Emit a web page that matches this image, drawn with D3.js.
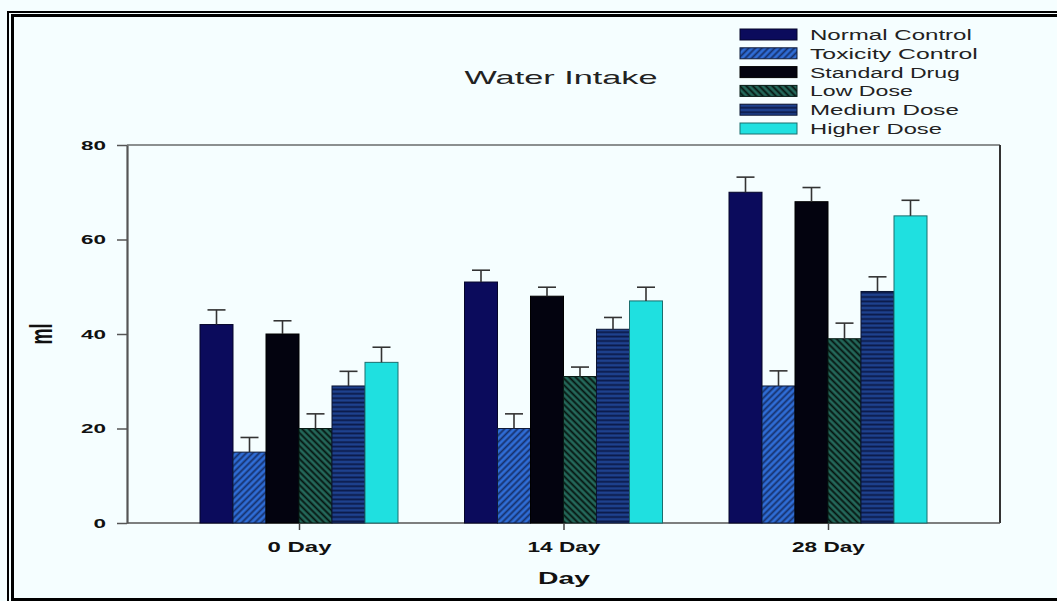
<!DOCTYPE html>
<html>
<head>
<meta charset="utf-8">
<script src="https://cdn.jsdelivr.net/npm/d3@7"></script>
<style>
html,body{margin:0;padding:0;background:#f5feff;}
svg{display:block;}
text{font-family:"Liberation Sans",Arial,sans-serif;}
</style>
</head>
<body>
<script>
// ---- data ----
const categories = ["0 Day", "14 Day", "28 Day"];
const seriesNames = ["Normal Control", "Toxicity Control", "Standard Drug", "Low Dose", "Medium Dose", "Higher Dose"];
const normalControl   = [42, 51, 70];
const toxicityControl = [15, 20, 29];
const standardDrug    = [40, 48, 68];
const lowDose         = [20, 31, 39];
const mediumDose      = [29, 41, 49];
const higherDose      = [34, 47, 65];
const normalControlErr   = [3.1, 2.5, 3.2];
const toxicityControlErr = [3.1, 3.1, 3.2];
const standardDrugErr    = [2.8, 1.9, 3.0];
const lowDoseErr         = [3.1, 2.0, 3.3];
const mediumDoseErr      = [3.1, 2.5, 3.1];
const higherDoseErr      = [3.2, 2.9, 3.3];
const yTicks = [0, 20, 40, 60, 80];

const seriesValues = [normalControl, toxicityControl, standardDrug, lowDose, mediumDose, higherDose];
const seriesErrs = [normalControlErr, toxicityControlErr, standardDrugErr, lowDoseErr, mediumDoseErr, higherDoseErr];
const fills = ["#0b0b5c", "url(#patTox)", "#03030f", "url(#patLow)", "url(#patMed)", "#1fe0e0"];
const strokes = ["#05052a", "#0d1a3a", "#000000", "#061a14", "#0a1433", "#1b6e6e"];

const W = 1057, H = 601;
const svg = d3.select("body").append("svg").attr("width", W).attr("height", H);

// horizontally stretch a text element to a target width, keeping its anchor point
function stretch(sel, widthFn) {
  sel.each(function (d, i) {
    const t = d3.select(this);
    const natural = this.getComputedTextLength();
    const target = typeof widthFn === "function" ? widthFn(d, i) : widthFn;
    const s = target / natural;
    const ax = +(t.attr("x") || 0);
    t.attr("transform", `translate(${ax},0) scale(${s},1) translate(${-ax},0)`);
  });
}

// patterns
const defs = svg.append("defs");
function stripePattern(id, base, line, rot, size, sw) {
  const p = defs.append("pattern").attr("id", id).attr("patternUnits", "userSpaceOnUse")
    .attr("width", size).attr("height", size).attr("patternTransform", `rotate(${rot})`);
  p.append("rect").attr("width", size).attr("height", size).attr("fill", base);
  p.append("line").attr("x1", size / 2).attr("y1", 0).attr("x2", size / 2).attr("y2", size)
    .attr("stroke", line).attr("stroke-width", sw);
}
stripePattern("patTox", "#2f6dd6", "#16306a", 45, 4.6, 1.8);
stripePattern("patLow", "#24685a", "#05140f", -45, 4.6, 1.8);
stripePattern("patMed", "#1e418e", "#0b1a48", 90, 4.4, 1.8);

// outer double border
svg.append("rect").attr("x", 8).attr("y", 12).attr("width", 1060).attr("height", 600)
  .attr("fill", "none").attr("stroke", "#000").attr("stroke-width", 2);
svg.append("rect").attr("x", 12.5).attr("y", 15.5).attr("width", 1050).attr("height", 584)
  .attr("fill", "none").attr("stroke", "#000").attr("stroke-width", 3);

// scales
const x0 = d3.scalePoint().domain(categories).range([299, 828]);
const x1 = d3.scaleBand().domain(seriesNames).range([-99, 99]).padding(0);
const y = d3.scaleLinear().domain([0, 80]).range([523, 145]);

// plot frame
const plotL = 127, plotR = 1000;
svg.append("line").attr("x1", plotL).attr("x2", plotR).attr("y1", y(80)).attr("y2", y(80))
  .attr("stroke", "#222").attr("stroke-width", 1.2);
svg.append("line").attr("x1", plotR).attr("x2", plotR).attr("y1", y(80)).attr("y2", y(0))
  .attr("stroke", "#333").attr("stroke-width", 2);
svg.append("line").attr("x1", plotL).attr("x2", plotR).attr("y1", y(0)).attr("y2", y(0))
  .attr("stroke", "#555").attr("stroke-width", 1.5);

// bars
seriesNames.forEach((name, si) => {
  const g = svg.append("g");
  g.selectAll("rect").data(categories).join("rect")
    .attr("x", c => x0(c) + x1(name))
    .attr("y", (c, i) => y(seriesValues[si][i]))
    .attr("width", x1.bandwidth())
    .attr("height", (c, i) => y(0) - y(seriesValues[si][i]))
    .attr("fill", fills[si])
    .attr("stroke", strokes[si]).attr("stroke-width", 1);
  // error bars (upper only)
  const eg = svg.append("g").attr("stroke", "#333").attr("stroke-width", 1.6);
  categories.forEach((c, i) => {
    const cx = x0(c) + x1(name) + x1.bandwidth() / 2;
    const top = y(seriesValues[si][i] + seriesErrs[si][i]);
    eg.append("line").attr("x1", cx).attr("x2", cx).attr("y1", y(seriesValues[si][i])).attr("y2", top);
    eg.append("line").attr("x1", cx - 9).attr("x2", cx + 9).attr("y1", top).attr("y2", top);
  });
});

// y axis
const yAxis = svg.append("g").attr("transform", `translate(${plotL},0)`)
  .call(d3.axisLeft(y).tickValues(yTicks).tickSize(10).tickSizeOuter(0).tickPadding(11));
yAxis.select(".domain").attr("stroke", "#555").attr("stroke-width", 2.2);
yAxis.selectAll(".tick line").attr("stroke", "#555").attr("stroke-width", 1.5);
yAxis.selectAll(".tick text")
  .attr("font-size", 12.5).attr("font-weight", "bold").attr("fill", "#111")
  .attr("font-family", "Liberation Sans, Arial, sans-serif")
  .call(stretch, d => String(d).length * 12.5);

// x axis
const xAxis = svg.append("g").attr("transform", `translate(0,${y(0)})`)
  .call(d3.axisBottom(x0).tickSize(7).tickPadding(12));
xAxis.select(".domain").remove();
xAxis.selectAll(".tick line").attr("stroke", "#444").attr("stroke-width", 1.5);
xAxis.selectAll(".tick text")
  .attr("font-size", 14).attr("font-weight", "bold").attr("fill", "#111")
  .attr("font-family", "Liberation Sans, Arial, sans-serif")
  .call(stretch, d => d.length === 5 ? 64 : 73);

// titles
svg.append("text").attr("x", 561).attr("y", 84).attr("text-anchor", "middle")
  .attr("font-size", 18).attr("fill", "#222").text("Water Intake")
  .call(stretch, 193);
svg.append("text").attr("x", 564).attr("y", 584).attr("text-anchor", "middle")
  .attr("font-size", 16).attr("font-weight", "bold").attr("fill", "#111").text("Day")
  .call(stretch, 52);
svg.append("g").attr("transform", "translate(52,334) scale(1.75,1) rotate(-90)")
  .append("text").attr("text-anchor", "middle").attr("font-size", 18)
  .attr("font-weight", "bold").attr("fill", "#111").text("ml");

// legend
const legendBaselines = [40, 58.8, 77.6, 96.4, 115.2, 134];
const legendWidths = [162, 168, 150, 103, 149, 132];
const lg = svg.append("g");
seriesNames.forEach((name, i) => {
  lg.append("rect").attr("x", 740).attr("y", legendBaselines[i] - 11).attr("width", 57).attr("height", 11)
    .attr("fill", fills[i]).attr("stroke", strokes[i]).attr("stroke-width", 1);
  lg.append("text").attr("x", 810).attr("y", legendBaselines[i])
    .attr("font-size", 14).attr("fill", "#222").text(name)
    .call(stretch, legendWidths[i]);
});
</script>
</body>
</html>
